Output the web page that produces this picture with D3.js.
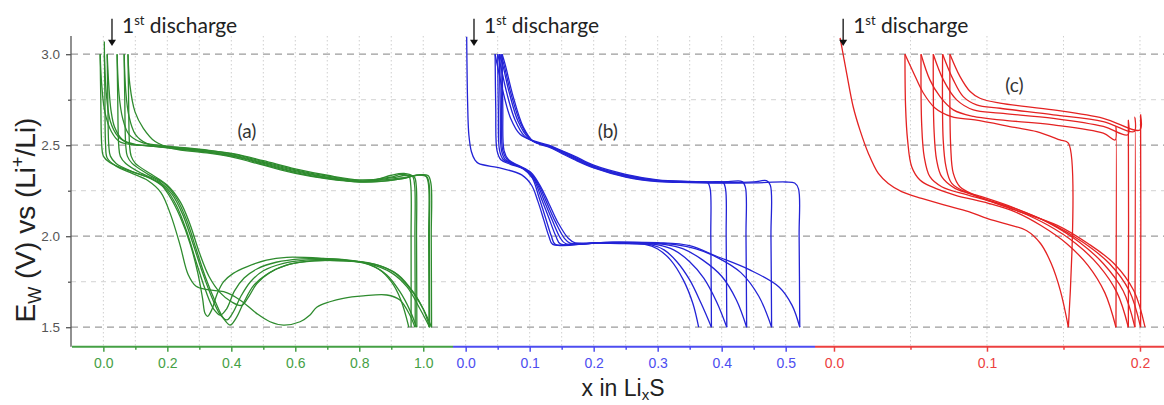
<!DOCTYPE html>
<html>
<head>
<meta charset="utf-8">
<script src="https://cdn.jsdelivr.net/npm/d3@7"></script>
<style>
  body { margin: 0; background: #fff; }
  text { font-family: "Liberation Sans", Arial, sans-serif; }
</style>
</head>
<body>
<div id="chart"></div>
<script>

// ---- data (x in LixS, E in V) ----
const yTicks = [1.5, 2.0, 2.5, 3.0];
const yMinor = [1.75, 2.25, 2.75];

const aTicks = [0, 0.2, 0.4, 0.6, 0.8, 1.0];
const aMinor = [0.1, 0.3, 0.5, 0.7, 0.9];
const bTicks = [0, 0.1, 0.2, 0.3, 0.4, 0.5];
const bMinor = [0.05, 0.15, 0.25, 0.35, 0.45];
const cTicks = [0, 0.1, 0.2];
const cMinor = [0.05, 0.15];

const panelLabels = ["(a)", "(b)", "(c)"];
const labelPos = [[0.449, 2.54], [0.222, 2.54], [0.118, 2.79]];
const arrowX = [0.027, 0.013, 0.006];

const aDischarge = [
  [[0.003,3.07],[0.005,2.75],[0.007,2.5],[0.012,2.43],[0.04,2.385],[0.09,2.345],[0.14,2.305],[0.18,2.24],[0.21,2.12],[0.24,1.95],[0.265,1.79],[0.29,1.725],[0.33,1.705],[0.376,1.695],[0.427,1.65],[0.479,1.576],[0.521,1.53],[0.563,1.512],[0.615,1.53],[0.646,1.567],[0.667,1.61],[0.708,1.64],[0.75,1.659],[0.8125,1.672],[0.886,1.677],[0.927,1.65],[0.958,1.567],[0.974,1.5]],
  [[-0.010,3.0],[-0.008,2.75],[-0.005,2.5],[0.0,2.44],[0.02,2.405],[0.073,2.364],[0.135,2.327],[0.177,2.29],[0.208,2.217],[0.24,2.107],[0.271,1.96],[0.295,1.8],[0.31,1.66],[0.318,1.575],[0.326,1.56],[0.34,1.6],[0.355,1.68],[0.376,1.75],[0.406,1.796],[0.448,1.832],[0.51,1.869],[0.573,1.884],[0.688,1.878],[0.771,1.865],[0.833,1.842],[0.886,1.787],[0.927,1.695],[0.958,1.594],[0.979,1.5]],
  [[0.012,3.0],[0.014,2.75],[0.017,2.5],[0.022,2.44],[0.04,2.4],[0.09,2.355],[0.15,2.315],[0.195,2.26],[0.228,2.17],[0.26,2.03],[0.29,1.86],[0.32,1.7],[0.345,1.6],[0.366,1.567],[0.385,1.6],[0.41,1.7],[0.44,1.77],[0.48,1.82],[0.54,1.857],[0.62,1.876],[0.72,1.876],[0.8,1.86],[0.86,1.82],[0.9,1.75],[0.93,1.65],[0.955,1.5]],
  [[0.043,3.0],[0.045,2.75],[0.048,2.5],[0.053,2.44],[0.07,2.4],[0.12,2.345],[0.175,2.3],[0.215,2.23],[0.248,2.12],[0.28,1.96],[0.31,1.8],[0.34,1.66],[0.365,1.57],[0.386,1.54],[0.405,1.58],[0.43,1.67],[0.46,1.75],[0.5,1.81],[0.56,1.85],[0.64,1.87],[0.74,1.87],[0.83,1.85],[0.9,1.8],[0.95,1.72],[0.99,1.6],[1.02,1.5]],
  [[0.065,3.0],[0.067,2.75],[0.07,2.5],[0.075,2.44],[0.09,2.4],[0.14,2.34],[0.19,2.29],[0.228,2.21],[0.26,2.09],[0.29,1.93],[0.32,1.77],[0.35,1.64],[0.375,1.55],[0.396,1.512],[0.415,1.55],[0.44,1.64],[0.47,1.73],[0.51,1.79],[0.57,1.84],[0.65,1.865],[0.75,1.865],[0.84,1.85],[0.91,1.8],[0.96,1.71],[1.0,1.6],[1.026,1.5]],
  [[0.077,3.0],[0.079,2.75],[0.082,2.5],[0.087,2.44],[0.1,2.4],[0.15,2.34],[0.2,2.28],[0.24,2.19],[0.27,2.07],[0.3,1.91],[0.33,1.78],[0.365,1.69],[0.4,1.64],[0.432,1.62],[0.455,1.67],[0.48,1.74],[0.52,1.8],[0.58,1.845],[0.66,1.865],[0.76,1.865],[0.85,1.845],[0.92,1.79],[0.97,1.69],[1.0,1.6],[1.02,1.5]]
];

const aCharge = [
  [[0.975,1.5],[0.974,2.0],[0.973,2.28],[0.966,2.33],[0.94,2.345],[0.9,2.335],[0.85,2.31],[0.8,2.305],[0.7,2.33],[0.6,2.365],[0.5,2.41],[0.41,2.45],[0.33,2.47],[0.23,2.488],[0.15,2.497],[0.09,2.503],[0.05,2.52],[0.025,2.575],[0.005,2.68],[-0.005,2.83],[-0.010,3.0]],
  [[0.98,1.5],[0.979,2.0],[0.978,2.28],[0.972,2.325],[0.95,2.335],[0.9,2.32],[0.8,2.3],[0.7,2.322],[0.6,2.355],[0.5,2.4],[0.41,2.44],[0.33,2.462],[0.23,2.482],[0.15,2.495],[0.1,2.505],[0.06,2.53],[0.035,2.6],[0.024,2.69],[0.017,2.83],[0.012,3.0]],
  [[0.962,1.5],[0.962,2.0],[0.961,2.28],[0.955,2.33],[0.93,2.34],[0.9,2.325],[0.8,2.31],[0.7,2.335],[0.6,2.37],[0.5,2.415],[0.41,2.452],[0.33,2.472],[0.23,2.49],[0.17,2.5],[0.12,2.515],[0.08,2.56],[0.06,2.65],[0.049,2.78],[0.043,3.0]],
  [[1.018,1.5],[1.017,2.0],[1.016,2.29],[1.008,2.33],[0.98,2.335],[0.93,2.315],[0.85,2.3],[0.8,2.3],[0.7,2.318],[0.6,2.35],[0.5,2.395],[0.41,2.437],[0.33,2.46],[0.23,2.48],[0.18,2.49],[0.135,2.51],[0.1,2.56],[0.08,2.66],[0.07,2.8],[0.065,3.0]],
  [[1.026,1.5],[1.025,2.0],[1.024,2.29],[1.015,2.333],[0.99,2.338],[0.94,2.318],[0.86,2.3],[0.8,2.298],[0.7,2.315],[0.6,2.345],[0.5,2.39],[0.41,2.432],[0.33,2.456],[0.214,2.483],[0.162,2.52],[0.125,2.593],[0.099,2.683],[0.083,2.83],[0.077,3.0]],
  [[1.02,1.5],[1.019,2.0],[1.018,2.29],[1.01,2.33],[0.985,2.336],[0.93,2.32],[0.85,2.305],[0.8,2.303],[0.7,2.325],[0.6,2.36],[0.5,2.405],[0.41,2.444],[0.33,2.466],[0.23,2.485],[0.14,2.497],[0.08,2.51],[0.045,2.55],[0.022,2.63],[0.01,2.77],[0.003,3.0]]
];

const bDischarge = [
  [[0.0016,3.096],[0.003,2.74],[0.005,2.556],[0.009,2.464],[0.0146,2.418],[0.02,2.40],[0.056,2.373],[0.0875,2.337],[0.103,2.28],[0.113,2.19],[0.122,2.09],[0.13,2.0],[0.136,1.955],[0.18,1.962],[0.24,1.96],[0.28,1.955],[0.3,1.93],[0.32,1.87],[0.34,1.76],[0.355,1.63],[0.364,1.5]],
  [[0.046,3.0],[0.047,2.7],[0.049,2.47],[0.055,2.42],[0.07,2.395],[0.09,2.37],[0.104,2.32],[0.114,2.22],[0.124,2.11],[0.134,2.0],[0.14,1.955],[0.2,1.963],[0.26,1.96],[0.29,1.952],[0.31,1.925],[0.33,1.86],[0.35,1.76],[0.368,1.63],[0.384,1.5]],
  [[0.05,3.0],[0.051,2.7],[0.053,2.47],[0.059,2.42],[0.074,2.395],[0.093,2.365],[0.107,2.31],[0.118,2.21],[0.13,2.1],[0.141,2.0],[0.148,1.958],[0.21,1.965],[0.27,1.96],[0.3,1.952],[0.325,1.925],[0.35,1.86],[0.372,1.77],[0.392,1.64],[0.408,1.5]],
  [[0.0526,3.0],[0.054,2.7],[0.056,2.47],[0.062,2.42],[0.077,2.393],[0.096,2.36],[0.11,2.3],[0.122,2.2],[0.135,2.09],[0.148,1.99],[0.156,1.96],[0.22,1.966],[0.28,1.962],[0.31,1.955],[0.34,1.93],[0.37,1.87],[0.4,1.78],[0.423,1.65],[0.439,1.5]],
  [[0.055,3.0],[0.056,2.7],[0.058,2.47],[0.065,2.42],[0.08,2.39],[0.099,2.355],[0.113,2.29],[0.126,2.19],[0.14,2.08],[0.154,1.99],[0.163,1.962],[0.23,1.967],[0.29,1.963],[0.325,1.955],[0.36,1.93],[0.395,1.88],[0.43,1.8],[0.458,1.67],[0.478,1.5]],
  [[0.057,3.0],[0.058,2.7],[0.06,2.47],[0.067,2.42],[0.083,2.388],[0.102,2.35],[0.116,2.28],[0.13,2.18],[0.145,2.07],[0.16,1.99],[0.171,1.964],[0.24,1.968],[0.3,1.965],[0.35,1.948],[0.392,1.89],[0.444,1.815],[0.49,1.72],[0.51,1.62],[0.522,1.5]]
];

const bCharge = [
  [[0.384,1.5],[0.383,2.0],[0.382,2.26],[0.378,2.295],[0.36,2.3],[0.3,2.31],[0.25,2.34],[0.2,2.39],[0.17,2.44],[0.15,2.47],[0.13,2.5],[0.105,2.525],[0.085,2.56],[0.07,2.65],[0.058,2.8],[0.05,2.93],[0.046,3.0]],
  [[0.408,1.5],[0.407,2.0],[0.406,2.26],[0.402,2.296],[0.38,2.298],[0.3,2.307],[0.25,2.335],[0.2,2.385],[0.17,2.435],[0.15,2.468],[0.13,2.495],[0.11,2.515],[0.092,2.55],[0.077,2.64],[0.064,2.79],[0.055,2.93],[0.05,3.0]],
  [[0.439,1.5],[0.438,2.0],[0.437,2.27],[0.432,2.3],[0.41,2.3],[0.35,2.298],[0.3,2.305],[0.25,2.332],[0.2,2.382],[0.17,2.43],[0.15,2.464],[0.132,2.493],[0.114,2.51],[0.098,2.54],[0.082,2.63],[0.068,2.79],[0.058,2.94],[0.0526,3.0]],
  [[0.478,1.5],[0.477,2.0],[0.476,2.28],[0.47,2.305],[0.45,2.298],[0.4,2.295],[0.35,2.297],[0.3,2.303],[0.25,2.328],[0.2,2.378],[0.17,2.425],[0.15,2.46],[0.132,2.49],[0.118,2.505],[0.102,2.53],[0.086,2.62],[0.071,2.78],[0.06,2.94],[0.055,3.0]],
  [[0.522,1.5],[0.521,2.0],[0.52,2.26],[0.514,2.292],[0.5,2.298],[0.45,2.293],[0.4,2.292],[0.35,2.295],[0.3,2.3],[0.25,2.325],[0.2,2.375],[0.17,2.42],[0.15,2.455],[0.132,2.487],[0.12,2.5],[0.106,2.52],[0.09,2.6],[0.074,2.77],[0.062,2.94],[0.057,3.0]]
];

const cDischarge = [
  [[0.004,3.09],[0.0083,2.895],[0.0126,2.71],[0.017,2.583],[0.0225,2.455],[0.029,2.345],[0.0355,2.29],[0.0442,2.245],[0.0573,2.208],[0.0725,2.171],[0.088,2.135],[0.1,2.098],[0.113,2.066],[0.126,2.03],[0.135,1.96],[0.142,1.85],[0.148,1.7],[0.1532,1.5]],
  [[0.0464,3.0],[0.0468,2.712],[0.0481,2.529],[0.0508,2.382],[0.0562,2.309],[0.0638,2.272],[0.079,2.226],[0.1009,2.181],[0.118,2.135],[0.135,2.06],[0.152,1.96],[0.166,1.84],[0.177,1.69],[0.1843,1.5]],
  [[0.0569,3.0],[0.0573,2.62],[0.059,2.436],[0.0627,2.327],[0.0704,2.272],[0.0878,2.226],[0.105,2.185],[0.12,2.14],[0.14,2.06],[0.158,1.96],[0.173,1.84],[0.185,1.69],[0.1924,1.5]],
  [[0.0649,3.0],[0.0654,2.583],[0.0671,2.418],[0.0704,2.327],[0.0791,2.263],[0.0965,2.217],[0.118,2.155],[0.14,2.075],[0.16,1.97],[0.176,1.85],[0.189,1.7],[0.1967,1.5]],
  [[0.071,3.0],[0.0714,2.528],[0.0732,2.382],[0.077,2.29],[0.0878,2.236],[0.118,2.153],[0.143,2.065],[0.163,1.965],[0.18,1.85],[0.193,1.7],[0.2004,1.5]],
  [[0.0758,3.0],[0.0763,2.492],[0.078,2.345],[0.0823,2.272],[0.092,2.226],[0.118,2.144],[0.146,2.06],[0.166,1.96],[0.183,1.85],[0.196,1.7],[0.2033,1.5]]
];

const cCharge = [
  [[0.1532,1.5],[0.1532,2.511],[0.1477,2.529],[0.1325,2.575],[0.118,2.598],[0.0922,2.639],[0.0769,2.657],[0.066,2.705],[0.0584,2.787],[0.0519,2.9],[0.0464,3.0]],
  [[0.1843,1.5],[0.1843,2.603],[0.1838,2.529],[0.176,2.566],[0.1434,2.612],[0.1085,2.639],[0.0911,2.658],[0.078,2.694],[0.0693,2.767],[0.0627,2.859],[0.0569,3.0]],
  [[0.1924,1.5],[0.1924,2.636],[0.192,2.557],[0.176,2.603],[0.1434,2.648],[0.1085,2.676],[0.0911,2.694],[0.0802,2.749],[0.0715,2.859],[0.0649,3.0]],
  [[0.1967,1.5],[0.1967,2.654],[0.1962,2.575],[0.176,2.63],[0.1434,2.667],[0.1085,2.703],[0.0932,2.722],[0.0845,2.767],[0.078,2.859],[0.071,3.0]],
  [[0.2004,1.5],[0.2004,2.667],[0.2,2.584],[0.176,2.648],[0.1434,2.694],[0.1085,2.731],[0.0954,2.758],[0.089,2.795],[0.0824,2.877],[0.0758,3.0]]
];

// ---- layout ----
const width = 1164;
const height = 405;
const axisY = 346.7;
const left = 71;

const svg = d3.select("#chart")
    .append("svg")
    .attr("width", width)
    .attr("height", height);

const yScale = d3.scaleLinear()
    .domain([1.393, 3.1])
    .range([axisY, 36]);

const panels = [
    {curves: aDischarge.concat(aCharge), ticks: aTicks, minor: aMinor,
     domain: [-0.098, 1.093], range: [72, 453], axis: "#45a045", line: "#2e8b2e"},
    {curves: bDischarge.concat(bCharge), ticks: bTicks, minor: bMinor,
     domain: [-0.0198, 0.5458], range: [453, 815], axis: "#4d4df0", line: "#2323d6"},
    {curves: cDischarge.concat(cCharge), ticks: cTicks, minor: cMinor,
     domain: [-0.0124, 0.2157], range: [815, 1164], axis: "#ec4040", line: "#e42222"}
];
panels.forEach(function(p) {
    p.x = d3.scaleLinear().domain(p.domain).range(p.range);
});

// horizontal grid
svg.append("g")
    .selectAll("line")
    .data(yMinor)
    .join("line")
    .attr("x1", left).attr("x2", width)
    .attr("y1", function(d) { return yScale(d); })
    .attr("y2", function(d) { return yScale(d); })
    .attr("stroke", "#d2d2d2")
    .attr("stroke-dasharray", "5,5");

svg.append("g")
    .selectAll("line")
    .data(yTicks)
    .join("line")
    .attr("x1", left).attr("x2", width)
    .attr("y1", function(d) { return yScale(d); })
    .attr("y2", function(d) { return yScale(d); })
    .attr("stroke", "#9c9c9c")
    .attr("stroke-width", 1.3)
    .attr("stroke-dasharray", "7,5");

// vertical dotted grid
panels.forEach(function(p) {
    svg.append("g")
        .selectAll("line")
        .data(p.ticks.concat(p.minor))
        .join("line")
        .attr("x1", function(d) { return p.x(d); })
        .attr("x2", function(d) { return p.x(d); })
        .attr("y1", 36).attr("y2", axisY)
        .attr("stroke", "#cfcfcf")
        .attr("stroke-dasharray", "1.5,2.5");
});

// curves
const line = d3.line()
    .curve(d3.curveCatmullRom.alpha(0.5));

panels.forEach(function(p) {
    line.x(function(d) { return p.x(d[0]); })
        .y(function(d) { return yScale(d[1]); });
    svg.append("g")
        .selectAll("path")
        .data(p.curves)
        .join("path")
        .attr("d", line)
        .attr("fill", "none")
        .attr("stroke", p.line)
        .attr("stroke-width", 1.3);
});

// x axes
panels.forEach(function(p) {
    const g = svg.append("g")
        .attr("transform", `translate(0,${axisY})`)
        .call(d3.axisBottom(p.x).tickValues(p.ticks).tickFormat(d3.format(".1f"))
            .tickSize(5).tickPadding(6));
    g.select(".domain").remove();
    g.selectAll("line").attr("stroke", p.axis).attr("stroke-width", 1.5);
    g.selectAll("text").attr("fill", p.axis).attr("font-size", 14);

    const gm = svg.append("g")
        .attr("transform", `translate(0,${axisY})`)
        .call(d3.axisBottom(p.x).tickValues(p.minor).tickFormat("").tickSize(3));
    gm.select(".domain").remove();
    gm.selectAll("line").attr("stroke", p.axis).attr("stroke-width", 1.5);

    svg.append("line")
        .attr("x1", p.range[0]).attr("x2", p.range[1])
        .attr("y1", axisY).attr("y2", axisY)
        .attr("stroke", p.axis)
        .attr("stroke-width", 2);
});

// y axis
const yAxis = svg.append("g")
    .attr("transform", `translate(${left},0)`)
    .call(d3.axisLeft(yScale).tickValues(yTicks).tickFormat(d3.format(".1f"))
        .tickSize(5).tickPadding(6));
yAxis.select(".domain").remove();
yAxis.selectAll("line").attr("stroke", "#555").attr("stroke-width", 1.3);
yAxis.selectAll("text").attr("fill", "#555").attr("font-size", 13.5);

const yAxisMinor = svg.append("g")
    .attr("transform", `translate(${left},0)`)
    .call(d3.axisLeft(yScale).tickValues(yMinor).tickFormat("").tickSize(3));
yAxisMinor.select(".domain").remove();
yAxisMinor.selectAll("line").attr("stroke", "#555").attr("stroke-width", 1.3);

svg.append("line")
    .attr("x1", left).attr("x2", left)
    .attr("y1", 36).attr("y2", axisY)
    .attr("stroke", "#555")
    .attr("stroke-width", 1.3);

// panel labels
panels.forEach(function(p, i) {
    svg.append("text")
        .attr("x", p.x(labelPos[i][0]))
        .attr("y", yScale(labelPos[i][1]))
        .attr("text-anchor", "middle")
        .style("font-family", "Lato, 'Open Sans', sans-serif")
        .attr("font-size", 19)
        .attr("fill", "#333")
        .text(panelLabels[i]);
});

// 1st discharge arrows
panels.forEach(function(p, i) {
    const ax = p.x(arrowX[i]);
    svg.append("line")
        .attr("x1", ax).attr("x2", ax)
        .attr("y1", yScale(3.195)).attr("y2", yScale(3.07))
        .attr("stroke", "#111")
        .attr("stroke-width", 1.3);
    svg.append("path")
        .attr("d", `M${ax - 4},${yScale(3.08)} L${ax + 4},${yScale(3.08)} L${ax},${yScale(3.045)} Z`)
        .attr("fill", "#111");

    const t = svg.append("text")
        .attr("x", ax + 10)
        .attr("y", yScale(3.116))
        .style("font-family", "Lato, 'Open Sans', sans-serif")
        .attr("font-size", 21)
        .attr("fill", "#222");
    t.append("tspan").text("1");
    t.append("tspan").attr("font-size", 13).attr("dy", -8).text("st");
    t.append("tspan").attr("dy", 8).text(" discharge");
});

// axis titles
const xt = svg.append("text")
    .attr("x", 623)
    .attr("y", 396)
    .attr("text-anchor", "middle")
    .attr("font-size", 23)
    .attr("fill", "#222");
xt.append("tspan").text("x in Li");
xt.append("tspan").attr("font-size", 15).attr("dy", 4).text("x");
xt.append("tspan").attr("dy", -4).text("S");

const yt = svg.append("text")
    .attr("transform", "rotate(-90)")
    .attr("x", -220)
    .attr("y", 35)
    .attr("text-anchor", "middle")
    .attr("font-size", 28)
    .attr("fill", "#222");
yt.append("tspan").text("E");
yt.append("tspan").attr("font-size", 18).attr("dy", 6).text("W");
yt.append("tspan").attr("dy", -6).text(" (V) vs (Li");
yt.append("tspan").attr("font-size", 18).attr("dy", -11).text("+");
yt.append("tspan").attr("dy", 11).text("/Li)");

</script>
</body>
</html>
